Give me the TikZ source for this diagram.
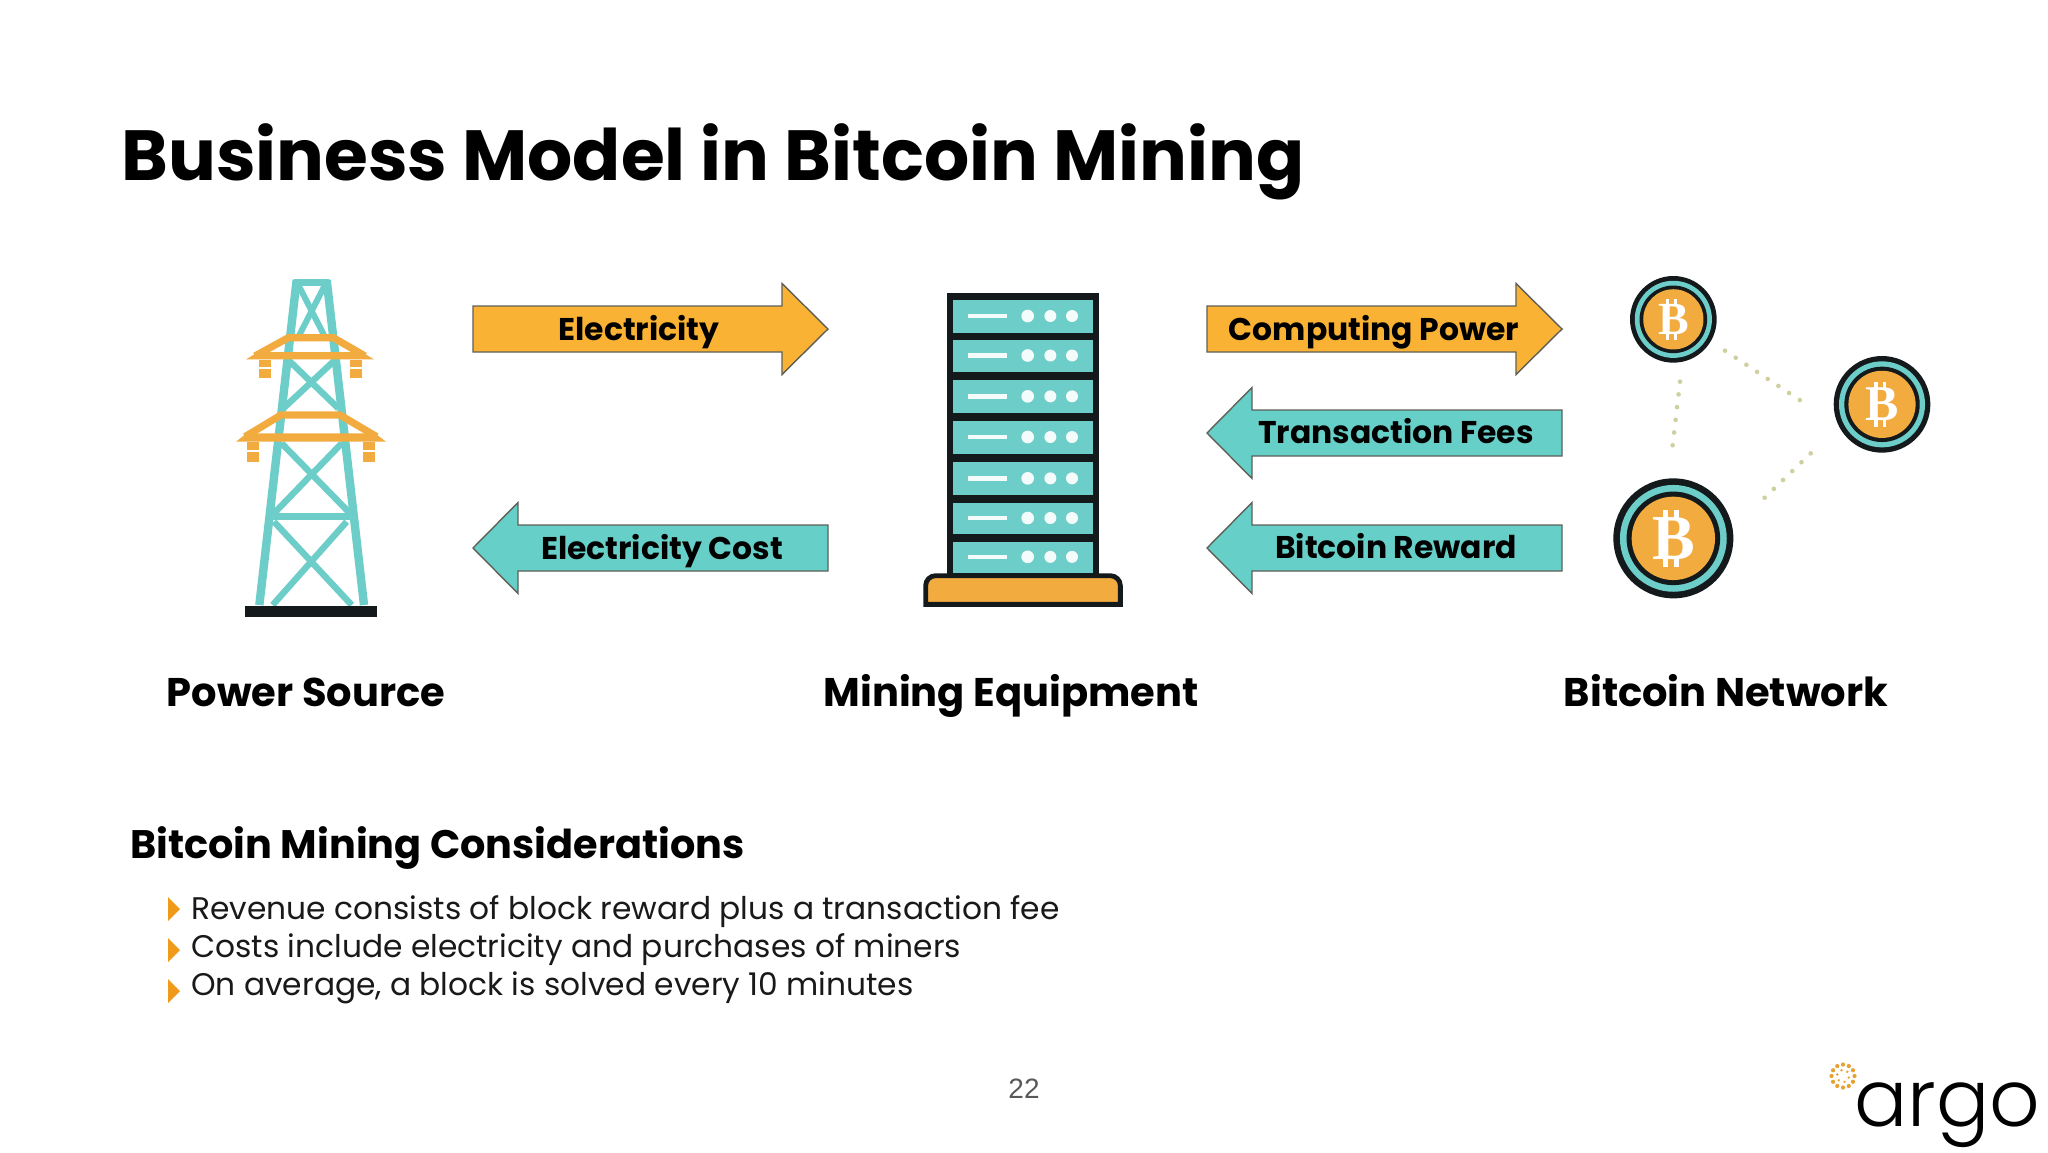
\documentclass[tikz,border=0pt]{standalone}
\usepackage{fontspec}
\setmainfont{Poppins}
\newfontfamily\logofont{Poppins Light}
\newfontfamily\numfont{Liberation Sans}
\newfontfamily\coinfont{Liberation Serif}
\usetikzlibrary{calc}
\definecolor{argoorange}{HTML}{F9B233}
\definecolor{argoteal}{HTML}{66CFC8}
\definecolor{iconorange}{HTML}{F2AB3F}
\definecolor{iconteal}{HTML}{6DCDC8}
\definecolor{inkdark}{HTML}{14191C}
\definecolor{bullet}{HTML}{F09A1A}
\definecolor{dotcol}{HTML}{CFCFA0}
\definecolor{flowedge}{HTML}{5E6058}
\definecolor{logodot}{HTML}{E8A030}
\tikzset{
  flow/.style={draw=flowedge,line width=0.7pt},
  flowtext/.style={font=\bfseries\fontsize{15.7}{20}\selectfont,text=black,inner sep=0pt,anchor=center,text height=0.75em,text depth=0.25em},
  headline/.style={font=\bfseries\fontsize{20}{24}\selectfont,text=black,inner sep=0pt,text height=0.75em,text depth=0.25em},
  bodytext/.style={font=\fontsize{15.63}{20}\selectfont,text=black!90,inner sep=0pt,anchor=base west},
  towerline/.style={draw=iconteal,line cap=butt},
  armline/.style={draw=iconorange,line cap=butt,line join=miter},
  linkdots/.style={draw=dotcol,line width=2.3pt,line cap=round,dash pattern=on 0pt off 6.4pt},
}
\newcommand{\rarrow}[5]{\path[flow,fill=#5] (#1,#4-23) -- (#2,#4-23) -- (#2,#4-45.5) -- (#3,#4) -- (#2,#4+45.5) -- (#2,#4+23) -- (#1,#4+23) -- cycle;}
\newcommand{\larrow}[5]{\path[flow,fill=#5] (#3,#4-23) -- (#2,#4-23) -- (#2,#4-45.5) -- (#1,#4) -- (#2,#4+45.5) -- (#2,#4+23) -- (#3,#4+23) -- cycle;}
% coin: cx cy r name fontsize
\newcommand{\coin}[5]{%
  \fill[inkdark] (#1,#2) circle ({#3});
  \fill[iconteal] (#1,#2) circle ({#3*0.89});
  \fill[inkdark] (#1,#2) circle ({#3*0.78});
  \fill[iconorange] (#1,#2) circle ({#3*0.695});
  \foreach \tx in {-0.17,0.01}{
    \fill[white] ($(#1,#2)+({\tx*#3},{-#3*0.47})$) rectangle ($(#1,#2)+({(\tx+0.08)*#3},{-#3*0.3})$);
    \fill[white] ($(#1,#2)+({\tx*#3},{#3*0.3})$) rectangle ($(#1,#2)+({(\tx+0.08)*#3},{#3*0.47})$);
  }
  \node[text=white,inner sep=0pt,font=\coinfont\bfseries\fontsize{#5}{10}\selectfont] (#4) at (#1,#2) {B};
}
\begin{document}
\begin{tikzpicture}[x=0.5pt,y=-0.5pt]
\useasboundingbox (0,0) rectangle (2048,1152);
\fill[white] (0,0) rectangle (2048,1152);

\node[inner sep=0pt,anchor=west,text=black,font=\bfseries\fontsize{35.5}{40}\selectfont] (title) at (121,162) {Business Model in Bitcoin Mining};

% tower
\begin{scope}[shift={(200,260)},x=0.16667pt,y=-0.16667pt]
  \draw[towerline,line width=4.2pt] (290,60) -- (178,1035);
  \draw[towerline,line width=4.2pt] (380,60) -- (492,1035);
  \draw[towerline,line width=3.4pt] (283,68) -- (387,68);
  \draw[towerline,line width=3pt] (295,75) -- (372,225);
  \draw[towerline,line width=3pt] (375,75) -- (298,225);
  \draw[towerline,line width=3.2pt] (265,300) -- (415,445);
  \draw[towerline,line width=3.2pt] (405,300) -- (250,445);
  \draw[towerline,line width=3.2pt] (245,550) -- (450,760);
  \draw[towerline,line width=3.2pt] (425,550) -- (222,760);
  \draw[towerline,line width=3.4pt] (215,770) -- (452,770);
  \draw[towerline,line width=3.2pt] (222,785) -- (455,1035);
  \draw[towerline,line width=3.2pt] (440,785) -- (218,1035);
  \draw[armline,line width=3.6pt] (165,288) -- (265,233) -- (400,233) -- (495,288);
  \fill[iconorange] (138,298) -- (175,276) -- (485,276) -- (522,298) -- cycle;
  \fill[iconorange] (178,300) rectangle (212,322);
  \fill[iconorange] (178,327) rectangle (212,355);
  \fill[iconorange] (450,300) rectangle (485,322);
  \fill[iconorange] (450,327) rectangle (485,355);
  \draw[armline,line width=3.6pt] (135,530) -- (243,465) -- (420,465) -- (530,530);
  \fill[iconorange] (108,545) -- (140,520) -- (525,520) -- (558,545) -- cycle;
  \fill[iconorange] (142,545) rectangle (177,570);
  \fill[iconorange] (142,575) rectangle (177,605);
  \fill[iconorange] (488,545) rectangle (524,570);
  \fill[iconorange] (488,575) rectangle (524,605);
  \fill[inkdark] (135,1037) rectangle (530,1070);
\end{scope}

% server
\begin{scope}[shift={(900,270)},x=0.16667pt,y=-0.16667pt]
  \fill[inkdark] (140,70) rectangle (598,915);
  \foreach \ya/\yb in {90/188,210/305,330/430,452/552,576/676,698/792,815/908}{
    \fill[iconteal] (160,\ya) rectangle (578,\yb);
    \pgfmathsetmacro{\ym}{(\ya+\yb)/2-1}
    \fill[white!92!iconteal] (205,\ym-7) rectangle (320,\ym+7);
    \fill[white!92!iconteal] (383,\ym) circle (19);
    \fill[white!92!iconteal] (451,\ym) circle (18);
    \fill[white!92!iconteal] (516,\ym) circle (18);
  }
  \draw[inkdark,fill=iconorange,line width=2.4pt,line join=miter] (77,1003) {[rounded corners=5pt] -- (77,917) -- (661,917)} -- (661,1003) -- cycle;
\end{scope}

% arrows
\rarrow{473}{782}{828}{329}{argoorange}
\node[flowtext] (lelec) at (639,335) {Electricity};
\larrow{473}{518}{828}{548}{argoteal}
\node[flowtext] (lcost) at (662,554) {Electricity Cost};
\rarrow{1207}{1516}{1562}{329}{argoorange}
\node[flowtext] (lcomp) at (1374,335) {Computing Power};
\larrow{1207}{1252}{1562}{433}{argoteal}
\node[flowtext] (lfees) at (1396,438) {Transaction Fees};
\larrow{1207}{1252}{1562}{548}{argoteal}
\node[flowtext] (lrew) at (1396,553) {Bitcoin Reward};

% coins
\begin{scope}[shift={(1590,260)},x=0.16667pt,y=-0.16667pt]
  \coin{250}{178}{130}{c1}{23}
  \coin{876}{433}{145}{c2}{25}
  \coin{250}{835}{180}{c3}{32}
  \coordinate (d1a) at (405,272); \coordinate (d1b) at (632,422);
  \coordinate (d2a) at (270,365); \coordinate (d2b) at (247,563);
  \coordinate (d3a) at (662,580); \coordinate (d3b) at (498,738);
  \draw[linkdots] (d1a) -- (d1b);
  \draw[linkdots] (d2a) -- (d2b);
  \draw[linkdots] (d3a) -- (d3b);
\end{scope}

% column headings
\node[headline] (h1) at (306,701) {Power Source};
\node[headline] (h2) at (1011,701) {Mining Equipment};
\node[headline] (h3) at (1726,701) {Bitcoin Network};

\node[headline,anchor=west,font=\bfseries\fontsize{19.9}{24}\selectfont] (cons) at (130,853) {Bitcoin Mining Considerations};
\node[bodytext] (b1) at (191,919) {Revenue consists of block reward plus a transaction fee};
\node[bodytext] (b2) at (191,957) {Costs include electricity and purchases of miners};
\node[bodytext] (b3) at (191,995) {On average, a block is solved every 10 minutes};
\foreach \yy in {897,938,979}{\fill[bullet] (168,\yy) -- (180,\yy+12) -- (168,\yy+24) -- cycle;}

\node[inner sep=0pt,text=black!65,font=\numfont\fontsize{14}{16}\selectfont] (pg) at (1024,1089) {22};

% logo
\node[inner sep=0pt,anchor=base west,text=black,font=\logofont\fontsize{39.5}{44}\selectfont] (logo) at (1854,1126) {argo};
\foreach \a in {0,30,...,330}{\fill[logodot] (1843,1076)+(\a:11.5) circle (2.1);}
\foreach \a in {15,75,...,315}{\fill[logodot] (1843,1076)+(\a:6) circle (1.3);}
\end{tikzpicture}
\end{document}
